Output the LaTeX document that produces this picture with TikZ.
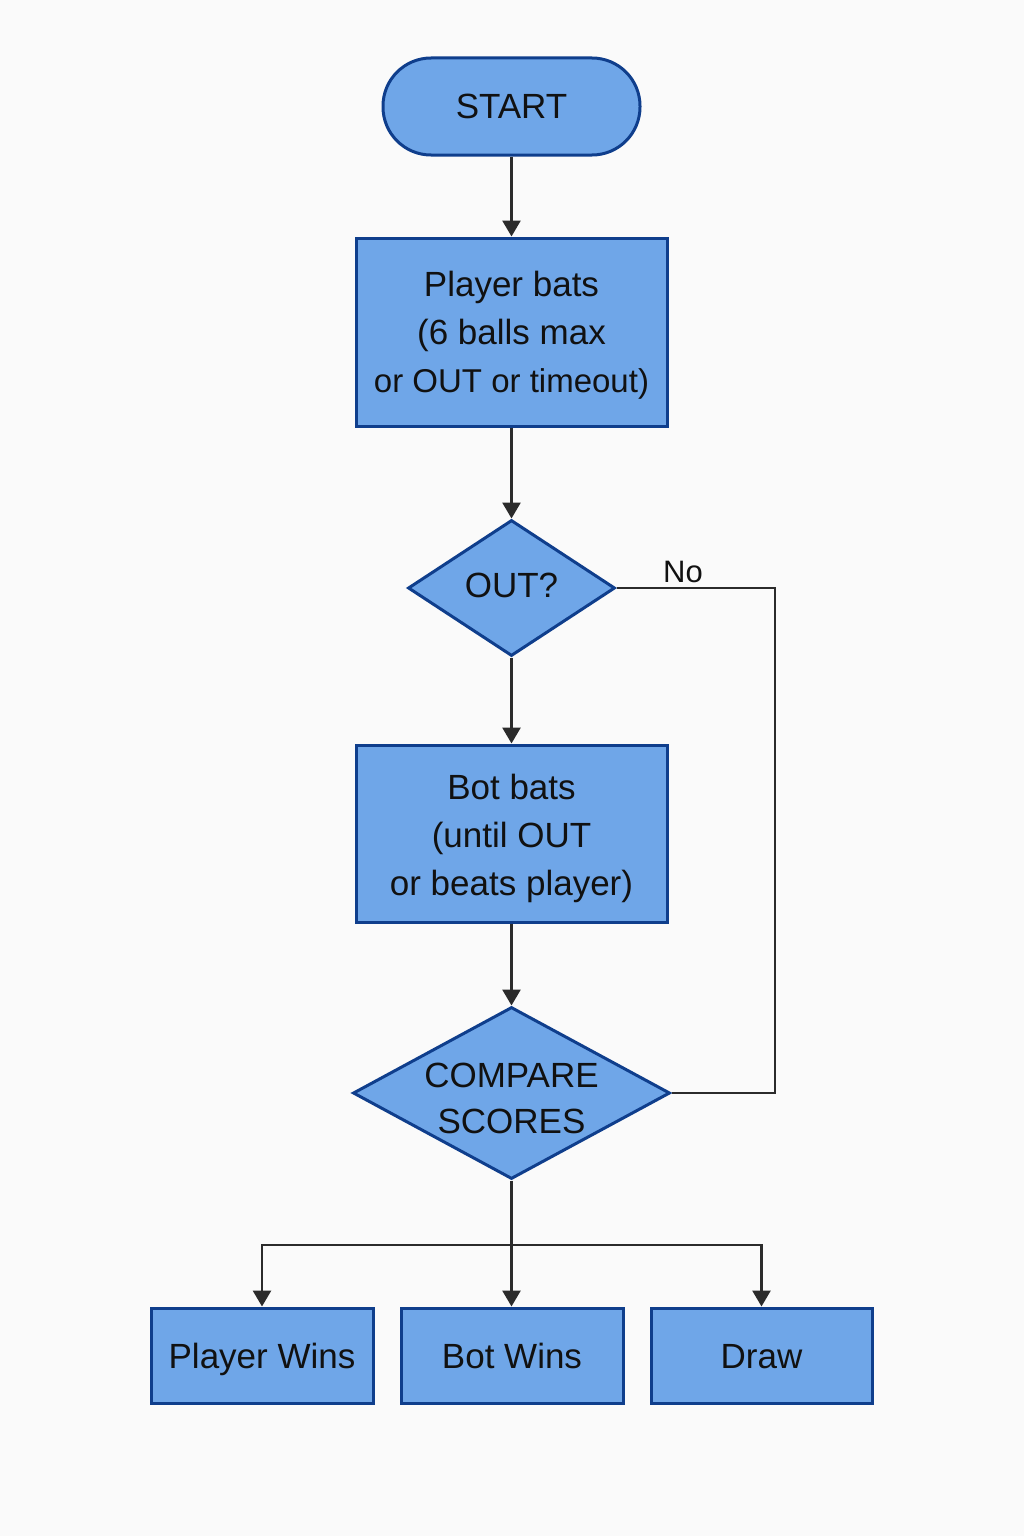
\documentclass[tikz,border=0pt]{standalone}
\usepackage{fontspec}
\setmainfont{Liberation Sans}
\usetikzlibrary{shapes.geometric,arrows.meta}
\definecolor{boxfill}{HTML}{6FA6E8}
\definecolor{boxline}{HTML}{0F3E8C}
\definecolor{arrowc}{HTML}{2B2B2B}
\definecolor{bgc}{HTML}{FAFAFA}
\definecolor{txt}{HTML}{111111}
\newcommand{\lift}[1]{\rule{0pt}{#1pt}}
\begin{document}
\begin{tikzpicture}[x=1pt,y=-1pt,
  base/.style={draw=boxline, fill=boxfill, line width=3pt, text=txt,
    font=\fontsize{35}{48}\selectfont, align=center, inner sep=0pt},
  startbox/.style={base, rectangle, rounded corners=48pt, minimum width=257pt, minimum height=97pt,
    text height=25pt, text depth=0pt},
  procbox/.style={base, rectangle},
  onebox/.style={procbox, text height=25pt, text depth=0pt},
  decbox/.style={base, diamond, font=\fontsize{35}{46}\selectfont},
  conn/.style={draw=arrowc, line width=2.8pt},
  arr/.style={conn, -{Triangle[width=18pt,length=16pt]}},
  lbl/.style={text=txt, font=\fontsize{31}{36}\selectfont, inner sep=0pt}
]
\fill[bgc] (0,0) rectangle (1024,1536);
\useasboundingbox (0,0) rectangle (1024,1536);

\node[startbox] (start) at (511.5,106.5) {START};
\node[procbox, minimum width=311pt, minimum height=188pt] (pbat) at (511.5,332)
  {\lift{32}Player bats\\(6 balls max\\{\fontsize{33}{48}\selectfont or OUT or timeout)}};
\node[decbox, minimum width=207pt, minimum height=136pt, aspect=1.52,
  text height=25pt, text depth=6pt] (out) at (511.5,588) {OUT?};
\node[procbox, minimum width=311pt, minimum height=177pt] (bbat) at (511.5,833.5)
  {\lift{36}Bot bats\\(until OUT\\or beats player)};
\node[decbox, minimum width=317pt, minimum height=172pt, aspect=1.84, inner sep=-8pt] (cmp) at (511.5,1093)
  {\lift{35}COMPARE\\SCORES};
\node[onebox, minimum width=222pt, minimum height=95pt] (pw) at (262,1355.5) {Player Wins};
\node[onebox, minimum width=222pt, minimum height=95pt] (bw) at (512,1355.5) {Bot Wins};
\node[onebox, minimum width=221pt, minimum height=95pt] (dr) at (761.5,1355.5) {Draw};

\node[lbl] (no) at (683,572) {No};

\draw[arr] (start) -- (pbat);
\draw[arr] (pbat) -- (out);
\draw[arr] (out) -- (bbat);
\draw[arr] (bbat) -- (cmp);

\coordinate (lx) at (775,800);
\draw[conn] (out.east) -- (out.east -| lx) -- (cmp.east -| lx) -- (cmp.east);

\coordinate (br) at (511.5,1245);
\draw[conn] (cmp.south) -- (br);
\draw[arr] (br) -| (pw);
\draw[arr] (br) -- (br |- bw.north);
\draw[arr] (br) -| (dr);
\end{tikzpicture}
\end{document}
